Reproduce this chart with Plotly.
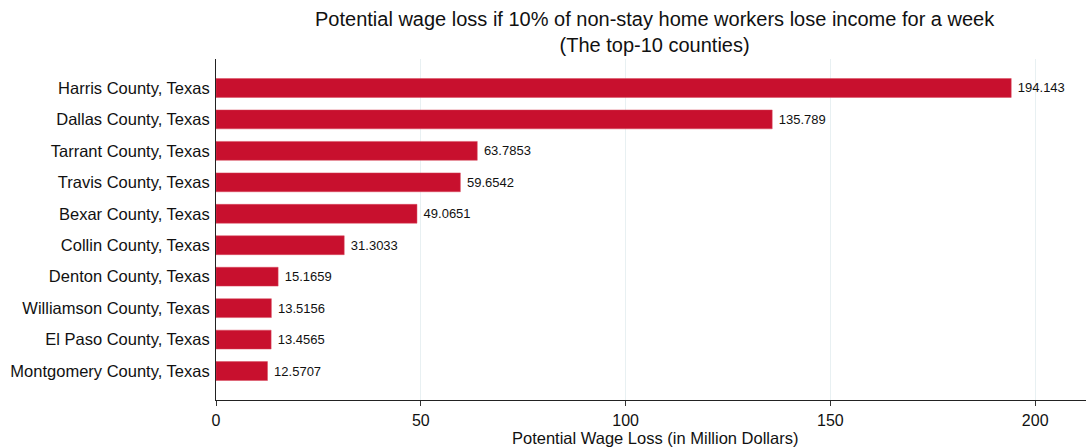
import plotly.graph_objects as go

counties = [
    "Harris County, Texas",
    "Dallas County, Texas",
    "Tarrant County, Texas",
    "Travis County, Texas",
    "Bexar County, Texas",
    "Collin County, Texas",
    "Denton County, Texas",
    "Williamson County, Texas",
    "El Paso County, Texas",
    "Montgomery County, Texas",
]
wage_loss = [194.143, 135.789, 63.7853, 59.6542, 49.0651, 31.3033, 15.1659, 13.5156, 13.4565, 12.5707]
value_labels = ["194.143", "135.789", "63.7853", "59.6542", "49.0651", "31.3033", "15.1659", "13.5156", "13.4565", "12.5707"]
x_ticks = [0, 50, 100, 150, 200]

BAR = "#C8102E"

fig = go.Figure(go.Bar(
    x=wage_loss,
    y=counties,
    orientation="h",
    marker=dict(color=BAR, line=dict(color="#d94a5f", width=0.5)),
    width=0.6,
    text=value_labels,
    texttemplate="\u00a0%{text}",
    textposition="outside",
    textfont=dict(family="Liberation Sans, Arial", size=13, color="#111111"),
    cliponaxis=False,
    hoverinfo="skip",
))

fig.update_layout(
    width=1086, height=447,
    margin=dict(l=216, r=0, t=59, b=47),
    paper_bgcolor="white", plot_bgcolor="white",
    showlegend=False,
    font=dict(family="Liberation Sans, Arial", size=16, color="#111111"),
    annotations=[
        dict(text="Potential wage loss if 10% of non-stay home workers lose income for a week<br>(The top-10 counties)",
             x=(655 - 216) / 870, xref="paper", xanchor="center",
             y=1, yref="paper", yanchor="bottom", yshift=1, showarrow=False,
             font=dict(family="Liberation Sans Narrow, Arial Narrow, Liberation Sans", size=20, color="#111111")),
        dict(text="Potential Wage Loss (in Million Dollars)",
             x=(655 - 216) / 870, xref="paper", xanchor="center",
             y=0, yref="paper", yanchor="top", yshift=-27, showarrow=False,
             font=dict(family="Liberation Sans, Arial", size=16.5, color="#111111")),
    ],
)

fig.update_xaxes(
    range=[0, 212.4],
    tickvals=x_ticks,
    ticks="outside", ticklen=5, tickcolor="#333333", tickwidth=1,
    showline=True, linecolor="#222222", linewidth=1,
    showgrid=True, gridcolor="#e8f0f2", gridwidth=1,
    zeroline=False,
    ticklabelstandoff=1,
    tickfont=dict(size=16),
)
fig.update_yaxes(
    categoryorder="array", categoryarray=counties,
    range=[9.92, -0.92],
    showline=True, linecolor="#222222", linewidth=1,
    ticks="", showgrid=False,
    ticklabelstandoff=2,
    tickfont=dict(size=16.5),
)

fig.write_html("out.html",
               config={"displayModeBar": False},
               post_script="document.body.style.margin='0';document.body.style.overflow='hidden';")
